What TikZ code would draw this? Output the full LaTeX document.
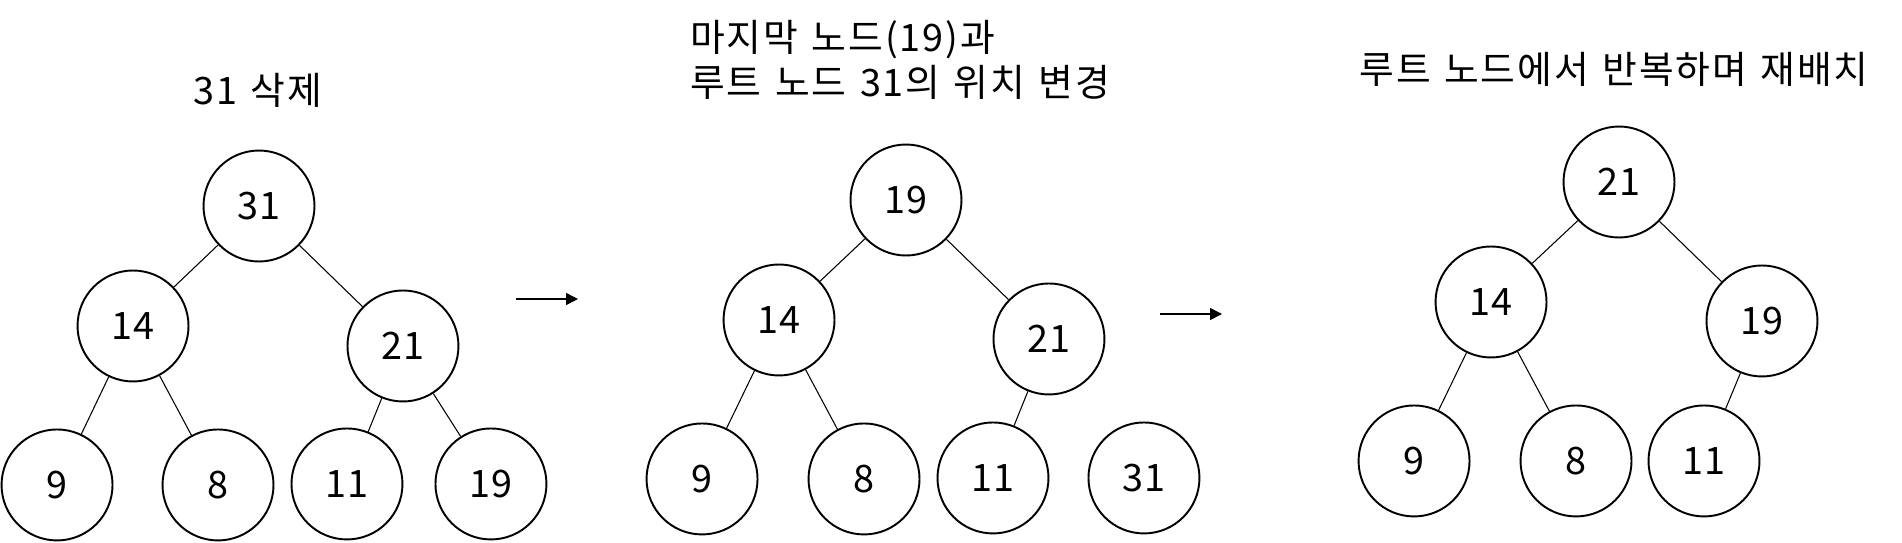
\documentclass[tikz,border=0pt]{standalone}
\usepackage{fontspec}
\setmainfont{Noto Sans CJK KR}[LetterSpace=5, WordSpace=1.3]
\usepackage{tikz}
\usetikzlibrary{positioning}
\usetikzlibrary{arrows.meta}

\tikzset{
    heapnode/.style={circle, draw, line width=1.1pt, minimum size=2.22cm, inner sep=0pt},
    heapedge/.style={line width=0.6pt},
    stagearrow/.style={-{Triangle[length=0.24cm, width=0.24cm]}, line width=0.9pt},
    stagetitle/.style={inner sep=0pt}
}

\begin{document}
\begin{tikzpicture}[x=0.02cm, y=-0.02cm, font=\fontsize{21.5}{25.3}\selectfont]
        \useasboundingbox (0,0) rectangle (1902,542);

        % 31 삭제
        \node[stagetitle] (del_title) at (258,90) {31 삭제};
        \node[heapnode] (del_31) at (259,206) {31};
        \node[heapnode, on grid] (del_14) [below left=2.40cm and 2.52cm of del_31] {14};
        \node[heapnode, on grid] (del_21) [below right=2.80cm and 2.88cm of del_31] {21};
        \node[heapnode, on grid] (del_9) [below left=3.18cm and 1.52cm of del_14] {9};
        \node[heapnode, on grid] (del_8) [below right=3.18cm and 1.70cm of del_14] {8};
        \node[heapnode, on grid] (del_11) [below left=2.76cm and 1.12cm of del_21] {11};
        \node[heapnode, on grid] (del_19) [below right=2.76cm and 1.76cm of del_21] {19};
        \draw[heapedge] (del_31) -- (del_14);
        \draw[heapedge] (del_31) -- (del_21);
        \draw[heapedge] (del_14) -- (del_9);
        \draw[heapedge] (del_14) -- (del_8);
        \draw[heapedge] (del_21) -- (del_11);
        \draw[heapedge] (del_21) -- (del_19);

        \coordinate (arrow_a_start) at (516,299);
        \coordinate (arrow_a_end) at (578,299);
        \draw[stagearrow] (arrow_a_start) -- (arrow_a_end);

        % 마지막 노드와 루트 교환
        \node[stagetitle, align=left, anchor=west] (swap_title) at (690,60) {마지막 노드(19)과 \\ 루트 노드 31의 위치 변경};
        \node[heapnode] (swap_19) at (906,200) {19};
        \node[heapnode, on grid] (swap_14) [below left=2.40cm and 2.54cm of swap_19] {14};
        \node[heapnode, on grid] (swap_21) [below right=2.78cm and 2.86cm of swap_19] {21};
        \node[heapnode, on grid] (swap_9) [below left=3.18cm and 1.54cm of swap_14] {9};
        \node[heapnode, on grid] (swap_8) [below right=3.18cm and 1.70cm of swap_14] {8};
        \node[heapnode, on grid] (swap_11) [below left=2.78cm and 1.12cm of swap_21] {11};
        \node[heapnode, on grid] (swap_31) [below right=2.78cm and 1.90cm of swap_21] {31};
        \draw[heapedge] (swap_19) -- (swap_14);
        \draw[heapedge] (swap_19) -- (swap_21);
        \draw[heapedge] (swap_14) -- (swap_9);
        \draw[heapedge] (swap_14) -- (swap_8);
        \draw[heapedge] (swap_21) -- (swap_11);

        \coordinate (arrow_b_start) at (1160,314);
        \coordinate (arrow_b_end) at (1222,314);
        \draw[stagearrow] (arrow_b_start) -- (arrow_b_end);

        % 재배치
        \node[stagetitle] (heapify_title) at (1614,69) {루트 노드에서 반복하며 재배치};
        \node[heapnode] (heapify_21) at (1619,182) {21};
        \node[heapnode, on grid] (heapify_14) [below left=2.40cm and 2.56cm of heapify_21] {14};
        \node[heapnode, on grid] (heapify_19) [below right=2.78cm and 2.86cm of heapify_21] {19};
        \node[heapnode, on grid] (heapify_9) [below left=3.18cm and 1.54cm of heapify_14] {9};
        \node[heapnode, on grid] (heapify_8) [below right=3.18cm and 1.70cm of heapify_14] {8};
        \node[heapnode, on grid] (heapify_11) [below left=2.80cm and 1.16cm of heapify_19] {11};
        \draw[heapedge] (heapify_21) -- (heapify_14);
        \draw[heapedge] (heapify_21) -- (heapify_19);
        \draw[heapedge] (heapify_14) -- (heapify_9);
        \draw[heapedge] (heapify_14) -- (heapify_8);
        \draw[heapedge] (heapify_19) -- (heapify_11);
    \end{tikzpicture}
\end{document}
